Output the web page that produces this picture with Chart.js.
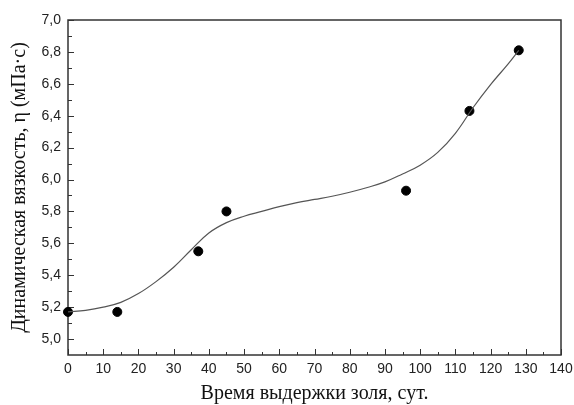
<!DOCTYPE html>
<html>
<head>
<meta charset="utf-8">
<script src="https://cdn.jsdelivr.net/npm/chart.js@4.4.1/dist/chart.umd.min.js"></script>
<style>
  html, body { margin: 0; padding: 0; background: #fff; }
</style>
</head>
<body>
<canvas id="viscosityChart" width="574" height="405"></canvas>
<script>
// measured points
const days = [0, 14, 37, 45, 96, 114, 128];
const viscosity = [5.17, 5.17, 5.55, 5.80, 5.93, 6.43, 6.81];

// fitted curve
const fitDays = [0, 5, 10, 15, 20, 25, 30, 35, 40, 45, 50, 55, 60, 65, 70, 75, 80, 85, 90, 95, 100, 105, 110, 115, 120, 125, 128];
const fitViscosity = [5.17, 5.18, 5.20, 5.23, 5.285, 5.36, 5.45, 5.56, 5.665, 5.73, 5.77, 5.80, 5.83, 5.855, 5.875, 5.895, 5.92, 5.95, 5.985, 6.035, 6.09, 6.17, 6.29, 6.45, 6.595, 6.725, 6.81];

// axis ticks
const xTicks = [0, 10, 20, 30, 40, 50, 60, 70, 80, 90, 100, 110, 120, 130, 140];
const xMinorTicks = [5, 15, 25, 35, 45, 55, 65, 75, 85, 95, 105, 115, 125, 135];
const yTicks = [5.0, 5.2, 5.4, 5.6, 5.8, 6.0, 6.2, 6.4, 6.6, 6.8, 7.0];
const yMinorTicks = [5.1, 5.3, 5.5, 5.7, 5.9, 6.1, 6.3, 6.5, 6.7, 6.9];

const axisColor = '#333';

// frame + inward tick marks
const frameTicks = {
    id: 'frameTicks',
    beforeDatasetsDraw(chart) {
        const { ctx, chartArea: a, scales: { x, y } } = chart;
        ctx.save();
        ctx.strokeStyle = axisColor;
        ctx.lineWidth = 1;
        ctx.beginPath();
        xTicks.forEach(v => {
            const px = Math.round(x.getPixelForValue(v)) + 0.5;
            ctx.moveTo(px, a.bottom); ctx.lineTo(px, a.bottom - 6);
        });
        xMinorTicks.forEach(v => {
            const px = Math.round(x.getPixelForValue(v)) + 0.5;
            ctx.moveTo(px, a.bottom); ctx.lineTo(px, a.bottom - 3);
        });
        yTicks.forEach(v => {
            const py = Math.round(y.getPixelForValue(v)) + 0.5;
            ctx.moveTo(a.left, py); ctx.lineTo(a.left + 6, py);
        });
        yMinorTicks.forEach(v => {
            const py = Math.round(y.getPixelForValue(v)) + 0.5;
            ctx.moveTo(a.left, py); ctx.lineTo(a.left + 4, py);
        });
        ctx.stroke();
        ctx.lineWidth = 1.5;
        ctx.strokeRect(a.left, a.top, a.right - a.left, a.bottom - a.top);
        ctx.restore();
    }
};

const commaFmt = v => v.toFixed(1).replace('.', ',');

new Chart(document.getElementById('viscosityChart'), {
    type: 'scatter',
    data: {
        datasets: [
            {
                data: fitDays.map((d, i) => ({ x: d, y: fitViscosity[i] })),
                showLine: true,
                borderColor: '#555',
                borderWidth: 1.2,
                pointRadius: 0,
                tension: 0.4,
                clip: false
            },
            {
                data: days.map((d, i) => ({ x: d, y: viscosity[i] })),
                backgroundColor: '#000',
                borderColor: '#000',
                pointRadius: 4.5,
                clip: false
            }
        ]
    },
    options: {
        responsive: false,
        animation: false,
        layout: { padding: { left: 0, top: 20, right: 13, bottom: 0 } },
        plugins: { legend: { display: false }, tooltip: { enabled: false } },
        scales: {
            x: {
                type: 'linear',
                min: 0,
                max: 140,
                afterFit(scale) {
                    scale.height = 50;
                    scale.paddingLeft = 0;
                    scale.paddingRight = 0;
                },
                afterBuildTicks(scale) { scale.ticks = xTicks.map(v => ({ value: v })); },
                grid: { display: false, drawTicks: false },
                border: { display: false },
                ticks: {
                    padding: 6,
                    color: '#222',
                    maxRotation: 0,
                    autoSkip: false,
                    font: { family: 'Liberation Sans', size: 14 }
                },
                title: {
                    display: true,
                    text: 'Время выдержки золя, сут.',
                    color: '#111',
                    font: { family: 'Liberation Serif', size: 20, lineHeight: 1 },
                    padding: { top: 0, bottom: 1 }
                }
            },
            y: {
                type: 'linear',
                min: 4.9,
                max: 7.0,
                afterFit(scale) {
                    scale.width = 68;
                    scale.paddingTop = 0;
                    scale.paddingBottom = 0;
                },
                afterBuildTicks(scale) { scale.ticks = yTicks.map(v => ({ value: v })); },
                grid: { display: false, drawTicks: false },
                border: { display: false },
                ticks: {
                    padding: 7,
                    color: '#222',
                    autoSkip: false,
                    callback: v => commaFmt(v),
                    font: { family: 'Liberation Sans', size: 14 }
                },
                title: {
                    display: true,
                    text: 'Динамическая вязкость, η (мПа·с)',
                    color: '#111',
                    font: { family: 'Liberation Serif', size: 20, lineHeight: 1 },
                    padding: { top: 10, bottom: 0 }
                }
            }
        }
    },
    plugins: [frameTicks]
});
</script>
</body>
</html>
